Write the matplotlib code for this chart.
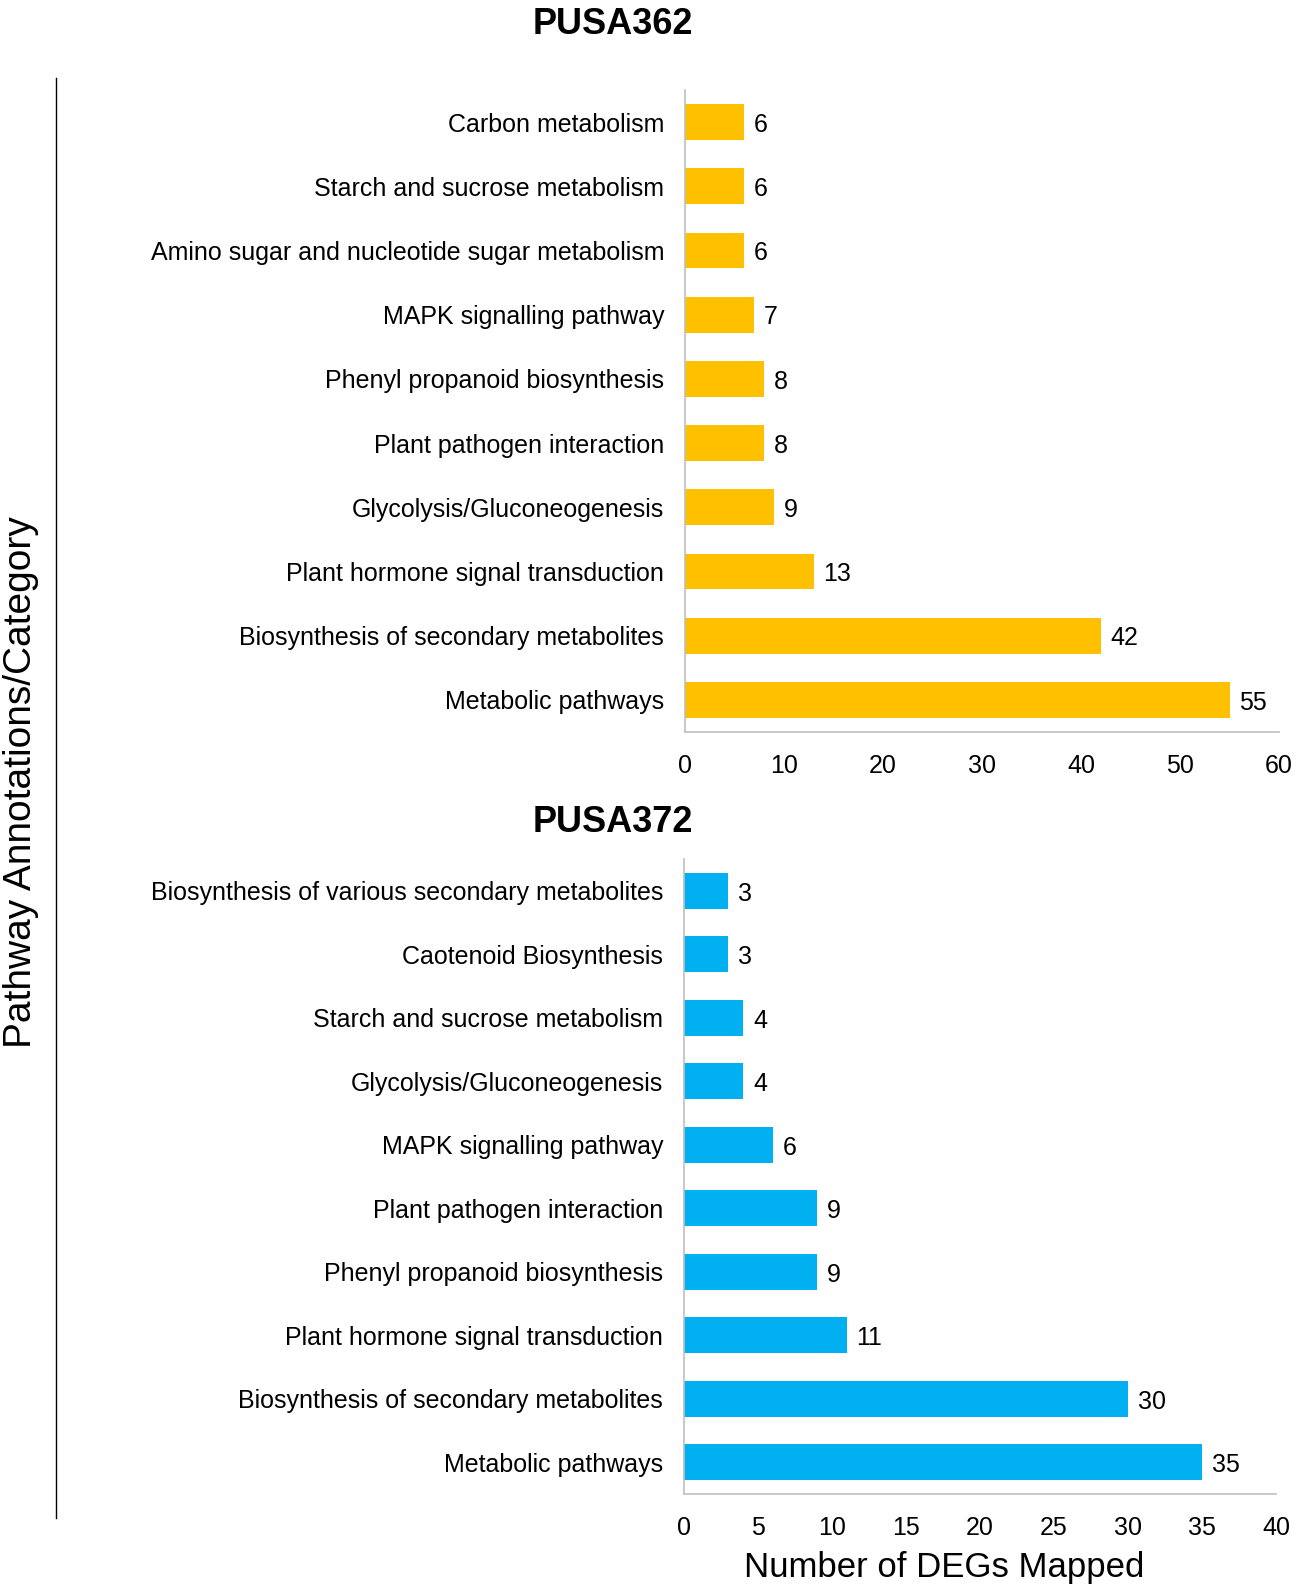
import matplotlib
matplotlib.use('Agg')
import matplotlib.pyplot as plt
from matplotlib.lines import Line2D

plt.rcParams['font.family'] = ['Liberation Sans', 'DejaVu Sans']

# PUSA362 (top to bottom)
cats_362 = ['Carbon metabolism', 'Starch and sucrose metabolism',
            'Amino sugar and nucleotide sugar metabolism', 'MAPK signalling pathway',
            'Phenyl propanoid biosynthesis', 'Plant pathogen interaction',
            'Glycolysis/Gluconeogenesis', 'Plant hormone signal transduction',
            'Biosynthesis of secondary metabolites', 'Metabolic pathways']
vals_362 = [6, 6, 6, 7, 8, 8, 9, 13, 42, 55]
ticks_362 = [0, 10, 20, 30, 40, 50, 60]

# PUSA372 (top to bottom)
cats_372 = ['Biosynthesis of various secondary metabolites', 'Caotenoid Biosynthesis',
            'Starch and sucrose metabolism', 'Glycolysis/Gluconeogenesis',
            'MAPK signalling pathway', 'Plant pathogen interaction',
            'Phenyl propanoid biosynthesis', 'Plant hormone signal transduction',
            'Biosynthesis of secondary metabolites', 'Metabolic pathways']
vals_372 = [3, 3, 4, 4, 6, 9, 9, 11, 30, 35]
ticks_372 = [0, 5, 10, 15, 20, 25, 30, 35, 40]

W, H = 1299, 1596
fig = plt.figure(figsize=(W / 100, H / 100), dpi=100)


def px_axes(x0, y0, x1, y1):
    return fig.add_axes([x0 / W, 1 - y1 / H, (x1 - x0) / W, (y1 - y0) / H])


def draw(ax, cats, vals, ticks, color, title, title_y):
    ys = range(len(cats))
    ax.barh(ys, vals, height=0.56, color=color)
    ax.set_yticks(list(ys))
    ax.set_yticklabels(cats, fontsize=18)
    ax.set_ylim(len(cats) - 0.5, -0.5)
    ax.set_xlim(ticks[0], ticks[-1])
    ax.set_xticks(ticks)
    ax.tick_params(axis='x', labelsize=18, length=0, pad=16)
    ax.tick_params(axis='y', length=0, pad=15)
    for s in ['top', 'right']:
        ax.spines[s].set_visible(False)
    for s in ['left', 'bottom']:
        ax.spines[s].set_color('#BFBFBF')
        ax.spines[s].set_linewidth(1.2)
    for y, v in zip(ys, vals):
        ax.annotate(str(v), (v, y), xytext=(7, -2), textcoords='offset points',
                    va='center', ha='left', fontsize=18)
    fig.text(613 / W, 1 - title_y / H, title, ha='center', va='center',
             fontsize=26, fontweight='bold')


ax1 = px_axes(685, 90, 1279, 732)
draw(ax1, cats_362, vals_362, ticks_362, '#FFC000', 'PUSA362', 24)

ax2 = px_axes(684, 859, 1276, 1494)
draw(ax2, cats_372, vals_372, ticks_372, '#00B0F0', 'PUSA372', 822)

fig.add_artist(Line2D([56 / W, 56 / W], [1 - 78 / H, 1 - 1518 / H],
                      color='black', linewidth=1))
fig.text(21 / W, 1 - 782 / H, 'Pathway Annotations/Category', rotation=90,
         ha='center', va='center', fontsize=28)
fig.text(944 / W, 1 - 1568 / H, 'Number of DEGs Mapped', ha='center',
         va='center', fontsize=25)

fig.savefig('out.png', dpi=100, facecolor='white')
